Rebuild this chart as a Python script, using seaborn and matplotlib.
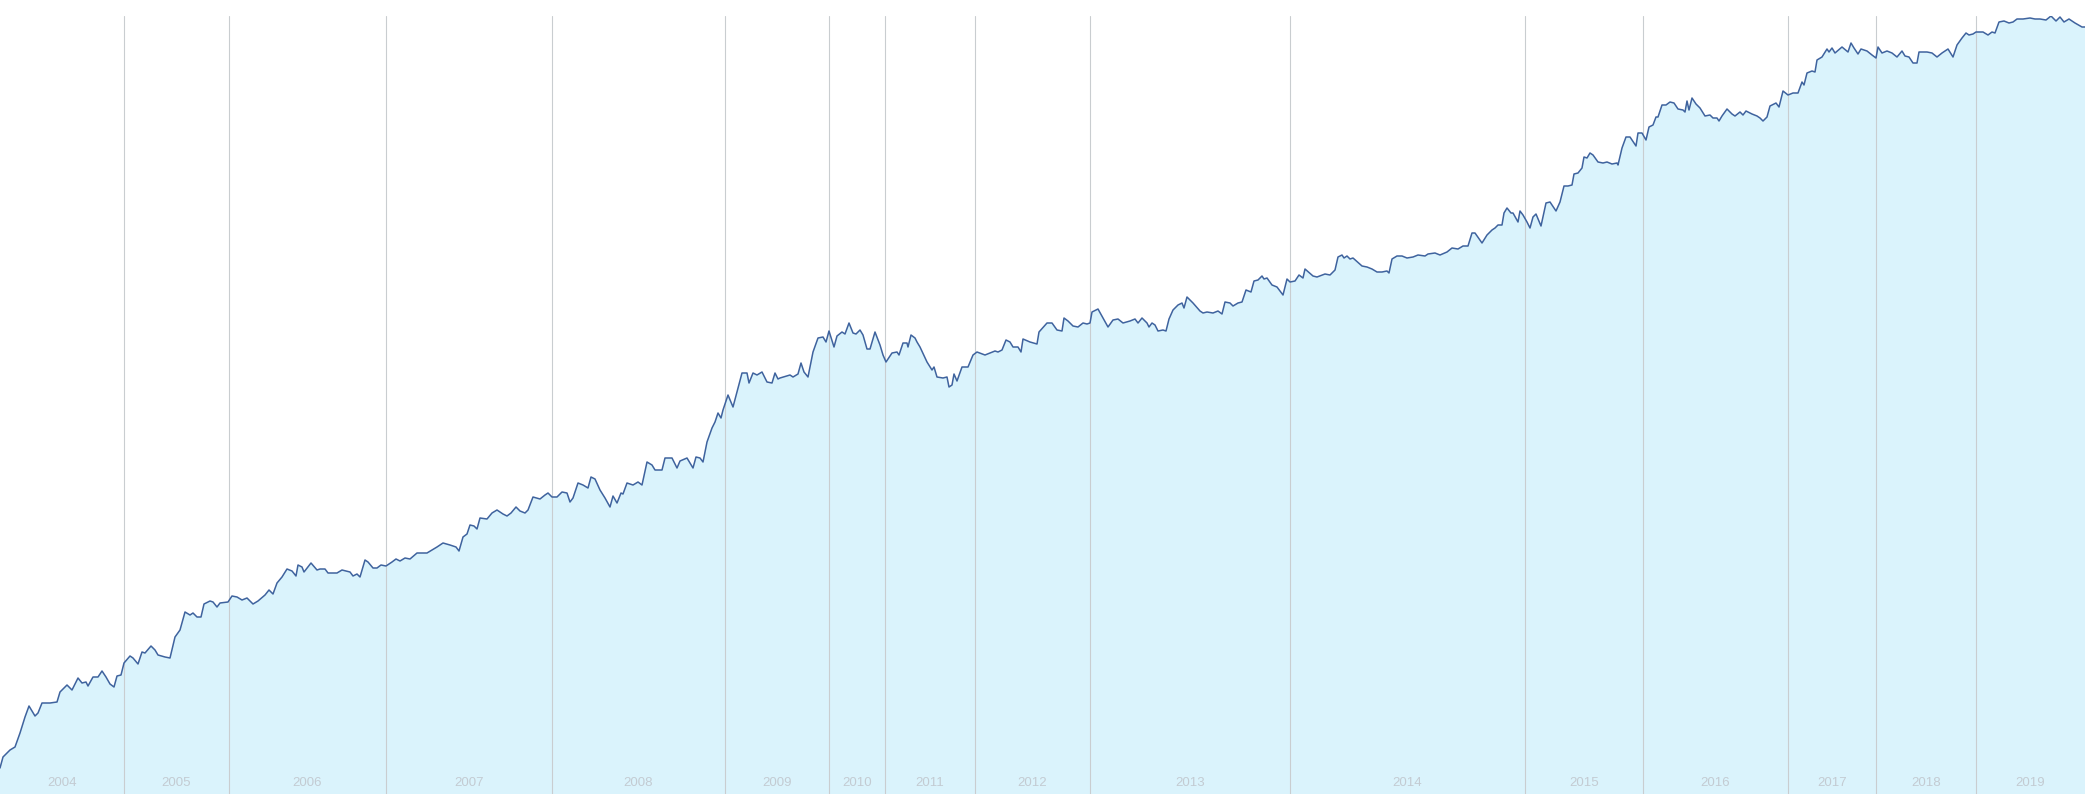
import matplotlib.pyplot as plt
import numpy as np
import pandas as pd
import seaborn as sns

# observation position (running index along the axis) and index level
week = [
    0, 3, 10, 15, 20, 25, 29, 35, 38, 42, 50, 57, 60, 67, 72, 78, 82, 86, 88, 93,
    98, 102, 106, 110, 114, 117, 121, 124, 130, 133, 138, 142, 145, 151, 155, 158, 165, 170, 175, 180,
    185, 190, 193, 197, 201, 204, 210, 213, 217, 220, 228, 232, 237, 242, 247, 253, 258, 265, 269, 273,
    277, 282, 287, 292, 296, 298, 302, 304, 311, 317, 320, 325, 328, 337, 342, 350, 353, 357, 360, 365,
    368, 373, 377, 381, 386, 392, 396, 400, 405, 410, 417, 427, 437, 443, 450, 456, 459, 463, 467, 470,
    474, 477, 480, 487, 492, 497, 503, 507, 511, 516, 520, 525, 528, 533, 540, 545, 548, 552, 557, 562,
    567, 570, 573, 578, 583, 588, 591, 595, 600, 605, 610, 613, 617, 621, 623, 627, 633, 638, 642, 647,
    652, 655, 662, 665, 672, 677, 680, 687, 693, 696, 700, 703, 707, 712, 715, 718, 721, 723, 728, 733,
    742, 747, 749, 753, 757, 762, 767, 772, 775, 778, 780, 790, 793, 798, 801, 804, 808, 813, 818, 823,
    826, 829, 834, 837, 842, 845, 849, 853, 856, 860, 863, 867, 870, 875, 880, 883, 886, 892, 897, 899,
    903, 907, 908, 911, 915, 917, 920, 927, 932, 934, 937, 943, 947, 949, 952, 954, 957, 962, 968, 973,
    977, 985, 990, 995, 998, 1002, 1006, 1010, 1013, 1018, 1021, 1023, 1030, 1037, 1039, 1047, 1052, 1057, 1062, 1064,
    1068, 1073, 1078, 1083, 1087, 1090, 1092, 1098, 1103, 1108, 1113, 1118, 1123, 1130, 1135, 1138, 1142, 1147, 1149, 1152,
    1155, 1158, 1163, 1166, 1169, 1173, 1178, 1182, 1184, 1187, 1193, 1200, 1203, 1207, 1213, 1218, 1222, 1225, 1230, 1233,
    1238, 1242, 1246, 1251, 1254, 1258, 1262, 1264, 1267, 1272, 1277, 1283, 1287, 1290, 1295, 1299, 1303, 1305, 1313, 1317,
    1325, 1330, 1335, 1338, 1342, 1344, 1347, 1350, 1353, 1362, 1367, 1372, 1377, 1382, 1387, 1389, 1392, 1397, 1402, 1407,
    1413, 1418, 1425, 1428, 1435, 1440, 1447, 1452, 1458, 1463, 1468, 1472, 1475, 1482, 1487, 1492, 1495, 1498, 1502, 1504,
    1507, 1511, 1513, 1518, 1520, 1523, 1527, 1530, 1533, 1536, 1541, 1546, 1550, 1556, 1560, 1564, 1568, 1572, 1574, 1578,
    1582, 1584, 1587, 1590, 1593, 1598, 1603, 1607, 1612, 1617, 1618, 1622, 1626, 1630, 1636, 1638, 1642, 1646, 1649, 1653,
    1656, 1658, 1662, 1666, 1670, 1674, 1678, 1683, 1685, 1687, 1689, 1692, 1696, 1700, 1705, 1710, 1713, 1717, 1719, 1722,
    1727, 1732, 1735, 1740, 1743, 1746, 1752, 1757, 1760, 1763, 1767, 1770, 1776, 1779, 1783, 1788, 1793, 1798, 1802, 1804,
    1807, 1812, 1815, 1817, 1822, 1827, 1829, 1832, 1835, 1842, 1848, 1851, 1854, 1858, 1861, 1867, 1872, 1876, 1878, 1882,
    1887, 1892, 1897, 1902, 1905, 1909, 1913, 1917, 1919, 1927, 1932, 1937, 1942, 1948, 1953, 1957, 1962, 1966, 1969, 1973,
    1976, 1983, 1988, 1992, 1995, 1999, 2004, 2009, 2013, 2017, 2023, 2030, 2035, 2040, 2046, 2051, 2056, 2060, 2064, 2069,
    2075, 2082, 2085,
]
level = [
    26, 37, 44, 47, 61, 77, 88, 78, 81, 91, 91, 92, 102, 109, 104, 116, 111, 112, 108, 117,
    117, 123, 117, 110, 107, 118, 119, 131, 138, 136, 130, 142, 141, 148, 144, 139, 137, 136, 157, 164,
    182, 179, 181, 177, 177, 190, 193, 192, 187, 191, 192, 198, 197, 194, 196, 190, 193, 199, 204, 200,
    211, 217, 225, 223, 218, 229, 227, 222, 231, 224, 225, 225, 221, 221, 224, 222, 218, 220, 217, 234,
    232, 226, 226, 229, 228, 232, 235, 233, 236, 235, 241, 241, 247, 251, 249, 247, 243, 257, 260, 269,
    268, 265, 276, 275, 281, 284, 280, 278, 281, 287, 283, 281, 284, 297, 295, 299, 301, 297, 297, 302,
    301, 292, 296, 311, 309, 306, 317, 315, 304, 296, 287, 298, 291, 301, 300, 311, 309, 312, 309, 332,
    329, 324, 324, 336, 336, 326, 333, 336, 326, 337, 336, 332, 352, 366, 372, 381, 376, 384, 399, 387,
    421, 421, 411, 421, 419, 422, 412, 411, 421, 415, 416, 419, 417, 420, 431, 422, 417, 442, 456, 457,
    452, 463, 447, 458, 462, 460, 471, 461, 460, 464, 459, 445, 445, 462, 449, 439, 432, 441, 442, 439,
    451, 451, 447, 459, 456, 452, 447, 432, 424, 427, 417, 416, 417, 407, 409, 420, 413, 427, 427, 439,
    442, 439, 441, 443, 442, 444, 454, 452, 447, 447, 442, 455, 452, 450, 462, 471, 471, 464, 463, 476,
    473, 468, 467, 471, 470, 471, 482, 485, 476, 467, 474, 475, 471, 473, 475, 471, 476, 471, 467, 471,
    469, 463, 464, 463, 475, 484, 489, 491, 486, 497, 491, 483, 481, 482, 481, 483, 480, 492, 491, 488,
    491, 492, 504, 502, 513, 514, 518, 515, 516, 509, 507, 499, 515, 512, 513, 519, 516, 525, 518, 517,
    520, 519, 524, 537, 539, 536, 538, 535, 536, 528, 527, 525, 522, 522, 523, 521, 535, 538, 538, 536,
    537, 539, 538, 540, 541, 539, 542, 546, 545, 548, 548, 561, 561, 551, 559, 564, 566, 569, 569, 581,
    586, 581, 581, 572, 583, 579, 572, 566, 577, 580, 568, 591, 592, 583, 592, 608, 608, 609, 620, 621,
    626, 637, 636, 641, 639, 632, 631, 632, 630, 631, 629, 646, 657, 657, 648, 661, 661, 654, 667, 669,
    677, 677, 689, 689, 692, 691, 685, 684, 682, 693, 684, 696, 690, 686, 678, 679, 676, 676, 673, 678,
    685, 680, 678, 682, 679, 683, 680, 678, 676, 673, 677, 688, 691, 687, 703, 699, 701, 701, 712, 709,
    721, 723, 722, 734, 737, 745, 742, 746, 741, 747, 742, 751, 746, 740, 745, 743, 739, 736, 747, 741,
    743, 741, 737, 743, 738, 737, 731, 731, 742, 742, 741, 737, 741, 745, 737, 749, 756, 761, 759, 760,
    762, 762, 759, 762, 761, 772, 773, 771, 772, 775, 775, 776, 775, 775, 774, 778, 773, 777, 772, 775,
    771, 767, 767,
]

years = ["2004", "2005", "2006", "2007", "2008", "2009", "2010", "2011",
         "2012", "2013", "2014", "2015", "2016", "2017", "2018", "2019"]
# position where each year segment starts (same running index as `week`)
year_start = [0, 124, 229, 386, 552, 725, 829, 885, 975, 1090, 1290,
              1525, 1643, 1788, 1876, 1976]

df = pd.DataFrame({"week": week, "level": level})

sns.set_style("white")
plt.rcParams["font.family"] = ["Liberation Sans", "DejaVu Sans"]

fig = plt.figure(figsize=(20.85, 7.94), dpi=100)
ax = fig.add_axes([0, 0, 1, 778 / 794])

x_end = week[-1]
ax.fill_between(df["week"], df["level"], 0, color="#daf3fc", linewidth=0, zorder=1)
sns.lineplot(data=df, x="week", y="level", ax=ax, color="#3f639e",
             linewidth=1.1, zorder=3)

# year separators
for xs in year_start[1:]:
    ax.axvline(xs, color="#c9cdd0", linewidth=0.8, zorder=2)

# year labels centred in each segment
bounds = year_start + [x_end]
for i, yr in enumerate(years):
    ax.text((bounds[i] + bounds[i + 1]) / 2, 11, yr, ha="center", va="center",
            fontsize=9.5, color="#c3cbd2", zorder=4)

ax.set_xlim(0, x_end)
ax.set_ylim(0, 778)
ax.set_xlabel("")
ax.set_ylabel("")
ax.set_xticks([])
ax.set_yticks([])
sns.despine(ax=ax, left=True, bottom=True)

fig.savefig("out.png", dpi=100)
